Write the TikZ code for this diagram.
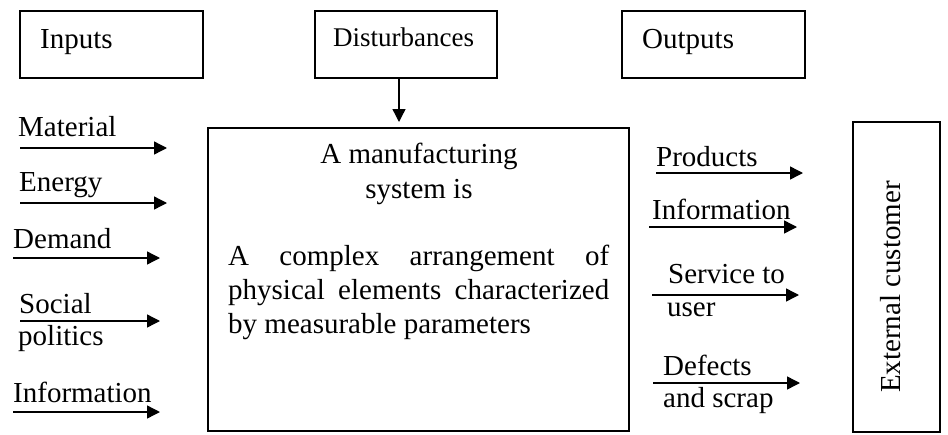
\documentclass[tikz,border=0pt]{standalone}
\usepackage{fontspec}
\setmainfont{Liberation Serif}
\usetikzlibrary{arrows.meta}
\begin{document}
\begin{tikzpicture}[x=1pt,y=-1pt,
  box/.style={draw, line width=1.8pt, inner sep=0pt, outer sep=0pt, anchor=north west},
  lbl/.style={inner sep=0pt, anchor=base west, font=\fontsize{29}{34}\selectfont},
  arr/.style={line width=1.4pt, -{Triangle[length=13pt,width=13pt]}}]
\useasboundingbox (0,0) rectangle (948,434);

% top boxes
\node[box, minimum width=183pt, minimum height=67pt] (inputs) at (20,11) {};
\node[box, minimum width=182pt, minimum height=67pt] (dist) at (315,11) {};
\node[box, minimum width=183pt, minimum height=67pt] (outputs) at (622,11) {};
\node[lbl] (tin) at (40,48) {Inputs};
\node[lbl, font=\fontsize{27}{32}\selectfont] (tdist) at (333,46) {Disturbances};
\node[lbl] (tout) at (642,48) {Outputs};

% main box
\node[box, minimum width=421pt, minimum height=303pt] (main) at (208,128) {};
\node[lbl, anchor=base] (m1) at (419,163) {A manufacturing};
\node[lbl, anchor=base] (m2) at (419,198) {system is};
\node[lbl] (m3) at (228,265) {\makebox[381pt][s]{A complex arrangement of}};
\node[lbl] (m4) at (228,299) {\makebox[381pt][s]{physical elements characterized}};
\node[lbl] (m5) at (228,333) {by measurable parameters};

% external customer
\node[box, minimum width=87pt, minimum height=310pt] (ext) at (853,122) {};
\node[lbl, anchor=base, rotate=90] (text) at (900,287) {External customer};

% disturbance arrow
\coordinate (dtip) at (399,122);
\draw[arr] (dist.south -| dtip) -- (dtip);

% inputs
\node[lbl] (imat) at (18,136) {Material};
\node[lbl] (iene) at (19,191) {Energy};
\node[lbl] (idem) at (13,248) {Demand};
\node[lbl] (isoc) at (19,313) {Social};
\node[lbl] (ipol) at (18,345) {politics};
\node[lbl] (iinf) at (13,402) {Information};
\coordinate (a1s) at (20,148);  \coordinate (a1e) at (167,148);
\coordinate (a2s) at (20,203);  \coordinate (a2e) at (167,203);
\coordinate (a3s) at (13,258);  \coordinate (a3e) at (160,258);
\coordinate (a4s) at (20,321);  \coordinate (a4e) at (160,321);
\coordinate (a5s) at (13,412);  \coordinate (a5e) at (160,412);
\draw[arr] (a1s) -- (a1e);
\draw[arr] (a2s) -- (a2e);
\draw[arr] (a3s) -- (a3e);
\draw[arr] (a4s) -- (a4e);
\draw[arr] (a5s) -- (a5e);

% outputs
\node[lbl] (opro) at (656,166) {Products};
\node[lbl] (oinf) at (652,219) {Information};
\node[lbl] (oser) at (668,283) {Service to};
\node[lbl] (ouse) at (667,316) {user};
\node[lbl] (odef) at (663,375) {Defects};
\node[lbl] (osc) at (663,407) {and scrap};
\coordinate (b1s) at (656,173);  \coordinate (b1e) at (803,173);
\coordinate (b2s) at (649,227);  \coordinate (b2e) at (797,227);
\coordinate (b3s) at (652,295);  \coordinate (b3e) at (799,295);
\coordinate (b4s) at (653,383);  \coordinate (b4e) at (800,383);
\draw[arr] (b1s) -- (b1e);
\draw[arr] (b2s) -- (b2e);
\draw[arr] (b3s) -- (b3e);
\draw[arr] (b4s) -- (b4e);
\end{tikzpicture}
\end{document}
